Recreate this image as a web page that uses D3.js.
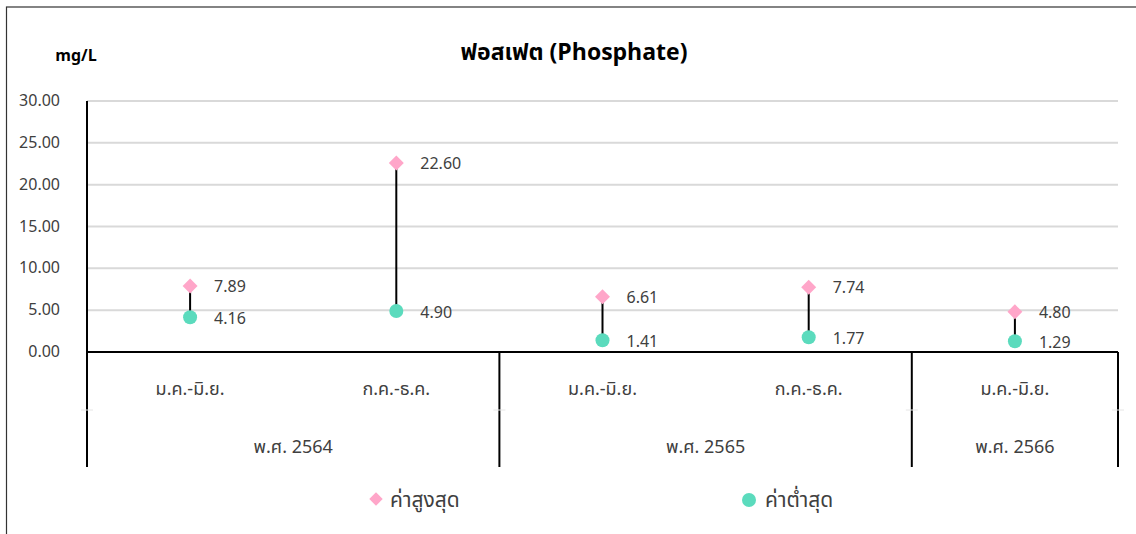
<!DOCTYPE html>
<html><head><meta charset="utf-8">
<script src="https://cdn.jsdelivr.net/npm/d3@7/dist/d3.min.js"></script>
<style>
body{margin:0;background:#fff;}
text{font-family:"Leelawadee UI",Tahoma,"Noto Sans Thai","Noto Sans","DejaVu Sans",sans-serif;}
</style></head>
<body><svg id="c" width="1136" height="534"></svg>
<script>
const periods = ["ม.ค.-มิ.ย.","ก.ค.-ธ.ค.","ม.ค.-มิ.ย.","ก.ค.-ธ.ค.","ม.ค.-มิ.ย."];
const years = [{label:"พ.ศ. 2564",n:2},{label:"พ.ศ. 2565",n:2},{label:"พ.ศ. 2566",n:1}];
const maxVals = [7.89,22.60,6.61,7.74,4.80];
const minVals = [4.16,4.90,1.41,1.77,1.29];
const yTicks = [0,5,10,15,20,25,30];
const seriesNames = ["ค่าสูงสุด","ค่าต่ำสุด"];
const colMax = "#ffa6c9", colMin = "#5bdbbd";

const svg = d3.select("#c");
const L=87, R=1118, T=101, B=352;
const x = d3.scaleBand().domain(d3.range(periods.length)).range([L,R]);
const y = d3.scaleLinear().domain([0,30]).range([B,T]);

// outer border
svg.append("rect").attr("x",6.5).attr("y",7).attr("width",1140).attr("height",540)
  .attr("fill","none").attr("stroke","#333").attr("stroke-width",1.2);

// gridlines
svg.append("g").selectAll("line").data(yTicks.filter(d=>d>0)).join("line")
  .attr("x1",L).attr("x2",R).attr("y1",d=>y(d)).attr("y2",d=>y(d))
  .attr("stroke","#d9d9d9").attr("stroke-width",2);

// y labels
svg.append("g").selectAll("text").data(yTicks).join("text")
  .attr("x",60).attr("y",d=>y(d)+5).attr("text-anchor","end")
  .attr("font-size",16).attr("fill","#404040").text(d=>d.toFixed(2));

// y axis line
svg.append("line").attr("x1",L).attr("x2",L).attr("y1",T).attr("y2",B).attr("stroke","#000").attr("stroke-width",2);

// category axis
svg.append("line").attr("x1",L).attr("x2",R).attr("y1",B).attr("y2",B).attr("stroke","#000").attr("stroke-width",2);
let idx=0; const seps=[L];
years.forEach(g=>{ idx+=g.n; seps.push(x(idx-1)+x.bandwidth()); });
svg.append("g").selectAll("line").data(seps).join("line")
  .attr("x1",d=>d).attr("x2",d=>d).attr("y1",B).attr("y2",467).attr("stroke","#000").attr("stroke-width",2);
// faint level divider ticks
svg.append("g").selectAll("line").data(seps).join("line")
  .attr("x1",d=>d-6).attr("x2",d=>d+6).attr("y1",410).attr("y2",410).attr("stroke","#e6e6e6").attr("stroke-width",1);

svg.append("g").selectAll("text").data(periods).join("text")
  .attr("x",(d,i)=>x(i)+x.bandwidth()/2).attr("y",395).attr("text-anchor","middle")
  .attr("font-size",18).attr("fill","#404040").text(d=>d);
let start=0;
years.forEach(g=>{
  const x0=x(start), x1=x(start+g.n-1)+x.bandwidth();
  svg.append("text").attr("x",(x0+x1)/2).attr("y",453).attr("text-anchor","middle")
    .attr("font-size",18).attr("fill","#404040").text(g.label);
  start+=g.n;
});

// drop lines
svg.append("g").selectAll("line").data(periods).join("line")
  .attr("x1",(d,i)=>x(i)+x.bandwidth()/2).attr("x2",(d,i)=>x(i)+x.bandwidth()/2)
  .attr("y1",(d,i)=>y(maxVals[i])).attr("y2",(d,i)=>y(minVals[i]))
  .attr("stroke","#000").attr("stroke-width",2);

const diamond = d3.symbol().type(d3.symbolSquare).size(112);
svg.append("g").selectAll("path").data(maxVals).join("path")
  .attr("d",diamond)
  .attr("transform",(d,i)=>`translate(${x(i)+x.bandwidth()/2},${y(d)}) rotate(45)`)
  .attr("fill",colMax);
svg.append("g").selectAll("circle").data(minVals).join("circle")
  .attr("cx",(d,i)=>x(i)+x.bandwidth()/2).attr("cy",d=>y(d)).attr("r",7).attr("fill",colMin);

// data labels
svg.append("g").selectAll("text").data(maxVals).join("text")
  .attr("x",(d,i)=>x(i)+x.bandwidth()/2+24).attr("y",d=>y(d)+6)
  .attr("font-size",16).attr("fill","#404040").text(d=>d.toFixed(2));
svg.append("g").selectAll("text").data(minVals).join("text")
  .attr("x",(d,i)=>x(i)+x.bandwidth()/2+24).attr("y",d=>y(d)+7)
  .attr("font-size",16).attr("fill","#404040").text(d=>d.toFixed(2));

// title & unit
svg.append("text").attr("x",574).attr("y",60).attr("text-anchor","middle")
  .attr("font-size",23).attr("font-weight","bold").attr("fill","#000").text("ฟอสเฟต (Phosphate)");
svg.append("text").attr("x",76).attr("y",61).attr("text-anchor","middle")
  .attr("font-size",16).attr("font-weight","bold").attr("fill","#000").text("mg/L");

// legend
const lg = svg.append("g");
lg.append("path").attr("d",d3.symbol().type(d3.symbolSquare).size(90)).attr("transform","translate(376,499) rotate(45)").attr("fill",colMax);
lg.append("text").attr("x",390).attr("y",507).attr("font-size",21).attr("fill","#404040").text(seriesNames[0]);
lg.append("circle").attr("cx",749).attr("cy",500).attr("r",7).attr("fill",colMin);
lg.append("text").attr("x",765).attr("y",507).attr("font-size",21).attr("fill","#404040").text(seriesNames[1]);
</script></body></html>
